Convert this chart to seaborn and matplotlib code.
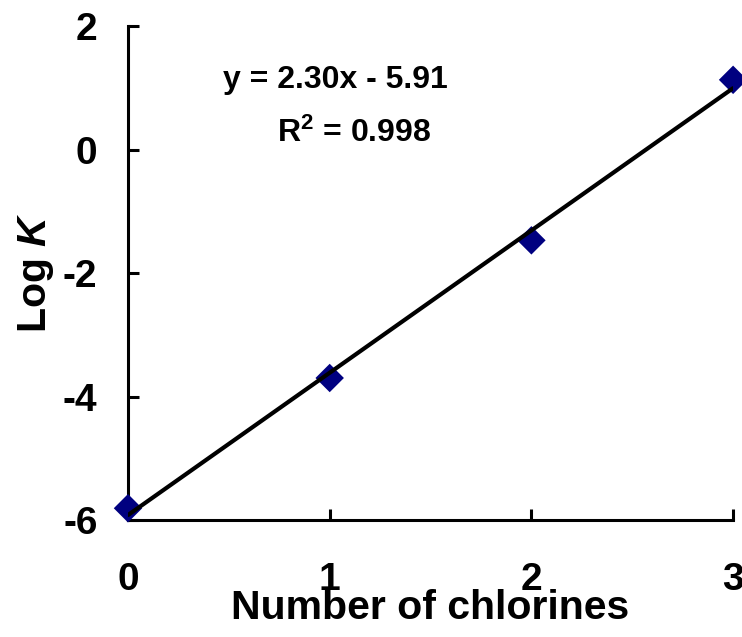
import numpy as np
import pandas as pd
import seaborn as sns
import matplotlib.pyplot as plt

# data
chlorines = [0, 1, 2, 3]
log_k = [-5.81, -3.70, -1.47, 1.13]
x_ticks = [0, 1, 2, 3]
y_ticks = [-6, -4, -2, 0, 2]
eq_text = "y = 2.30x - 5.91"
r2_text = "R$^2$ = 0.998"

df = pd.DataFrame({'n': chlorines, 'logk': log_k})

sns.set_style('ticks')
plt.rcParams['font.family'] = ['Liberation Sans', 'DejaVu Sans']
plt.rcParams['font.weight'] = 'bold'
plt.rcParams['text.color'] = 'black'
plt.rcParams['axes.labelcolor'] = 'black'
plt.rcParams['xtick.color'] = 'black'
plt.rcParams['ytick.color'] = 'black'
plt.rcParams['axes.edgecolor'] = 'black'
plt.rcParams['axes.unicode_minus'] = False
plt.rcParams['mathtext.fontset'] = 'custom'
plt.rcParams['mathtext.rm'] = 'Liberation Sans:bold'
plt.rcParams['mathtext.it'] = 'Liberation Sans:italic:bold'
plt.rcParams['mathtext.bf'] = 'Liberation Sans:bold'

fig = plt.figure(figsize=(7.42, 6.37), dpi=100)
ax = fig.add_axes([0.1725, 0.1837, 0.8155, 0.7753])

# scatter + least-squares line
sns.regplot(data=df, x='n', y='logk', ci=None, ax=ax, marker='D',
            scatter_kws={'s': 210, 'color': '#000080', 'alpha': 1,
                         'edgecolors': 'none', 'zorder': 3, 'clip_on': False},
            line_kws={'color': 'black', 'lw': 3, 'zorder': 4})

ax.set_xlim(0, 3)
ax.set_ylim(-6, 2)
ax.set_xticks(x_ticks)
ax.set_yticks(y_ticks)
ax.tick_params(direction='in', length=8, width=2.2, labelsize=28)
ax.tick_params(axis='x', pad=30)
ax.tick_params(axis='y', pad=22)
for s in ['top', 'right']:
    ax.spines[s].set_visible(False)
for s in ['left', 'bottom']:
    ax.spines[s].set_linewidth(2.2)

ax.set_xlabel('Number of chlorines', fontsize=29.5, fontweight='bold', labelpad=-6)
ax.set_ylabel('Log $K$', fontsize=29.5, fontweight='bold', labelpad=5)

ax.text(1.03, 1.13, eq_text, ha='center', va='center', fontsize=23, fontweight='bold')
ax.text(1.12, 0.27, r2_text, ha='center', va='center', fontsize=23, fontweight='bold')

fig.savefig('out.png', dpi=100)
